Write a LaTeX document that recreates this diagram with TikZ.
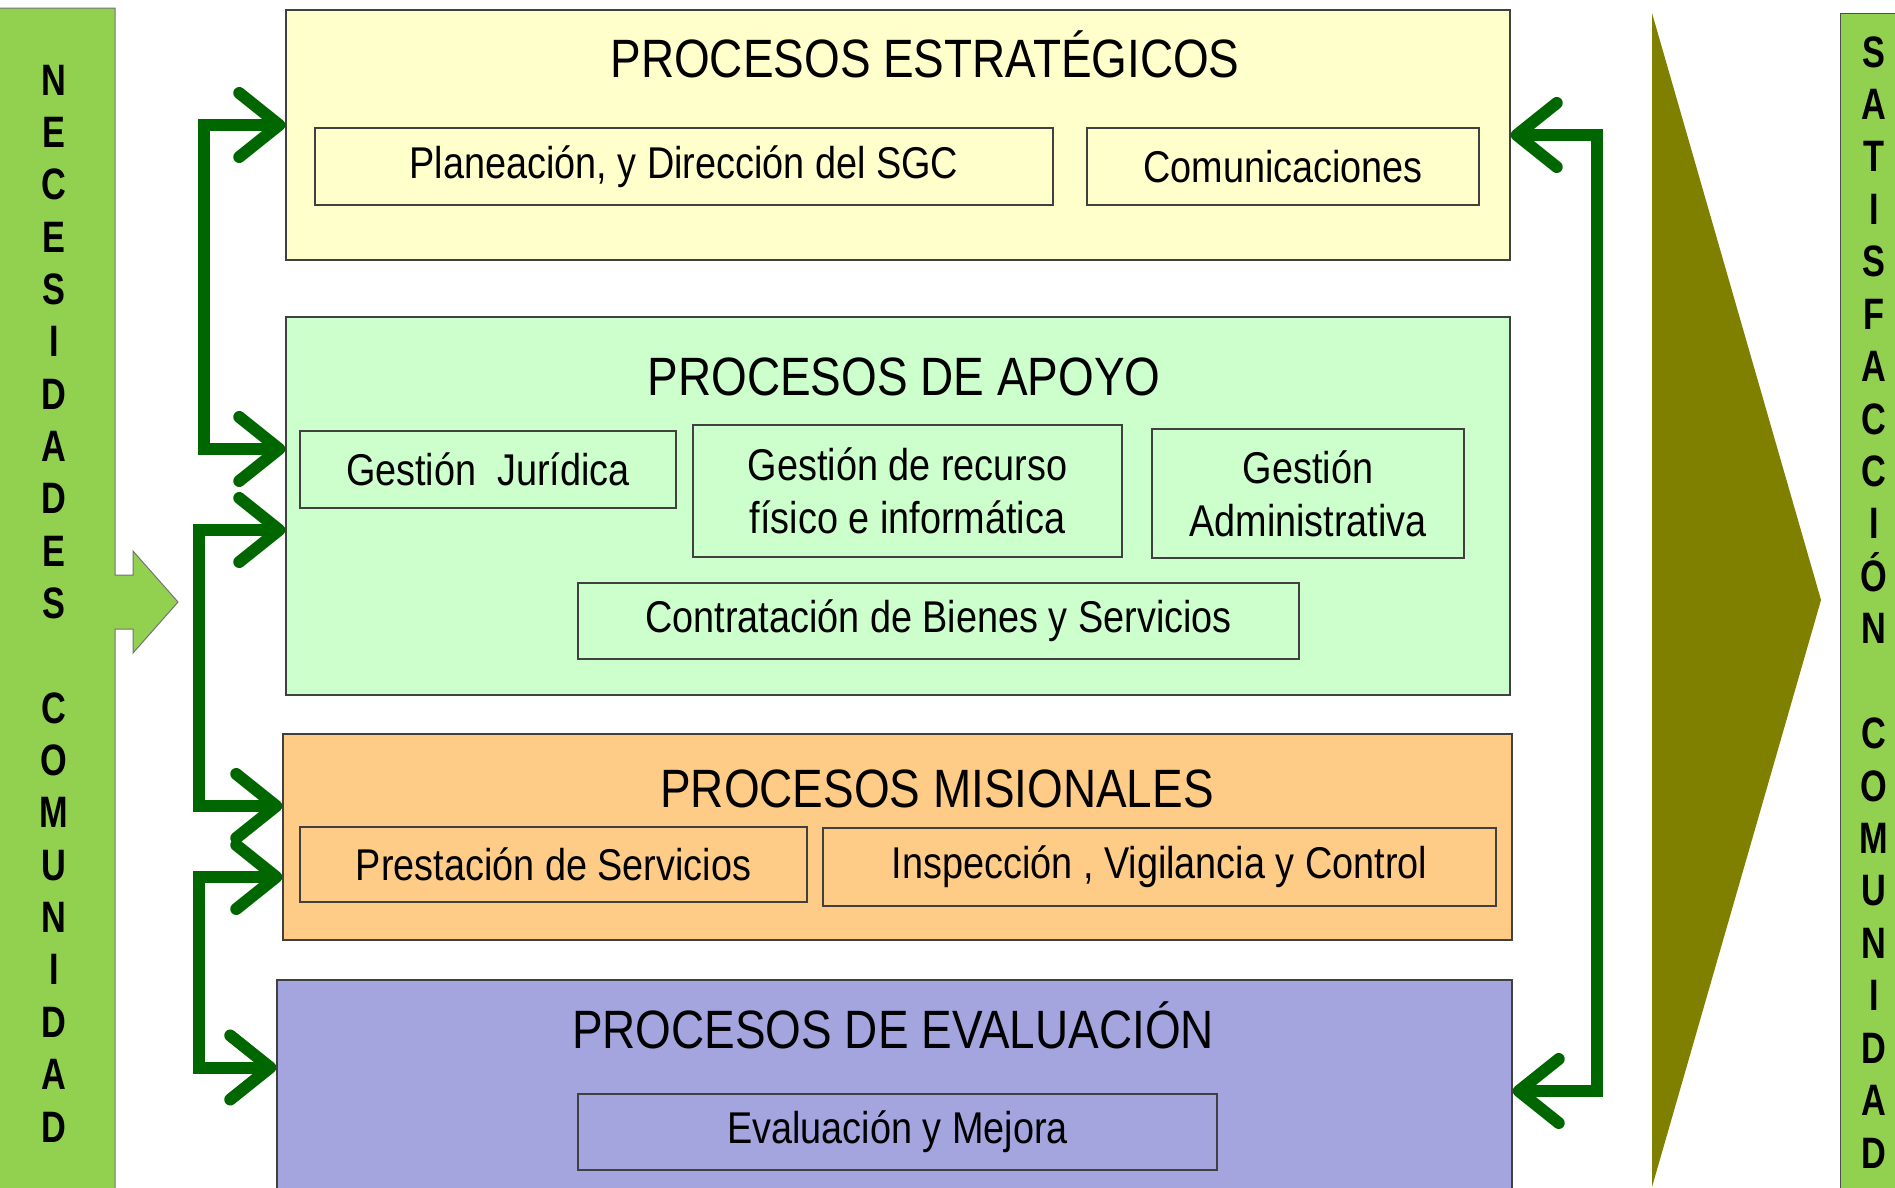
\documentclass[tikz,border=0pt]{standalone}
\usepackage{fontspec}
\setmainfont{Liberation Sans}[FakeStretch=0.85]
\newfontfamily\barfont{Liberation Sans}[FakeStretch=0.78]
\usetikzlibrary{arrows.meta}
\definecolor{barverde}{HTML}{92D050}
\definecolor{amarillo}{HTML}{FFFFCC}
\definecolor{verdeclaro}{HTML}{CCFFCC}
\definecolor{naranja}{HTML}{FFCC88}
\definecolor{lila}{HTML}{A4A4DE}
\definecolor{olivo}{HTML}{808000}
\definecolor{verdeosc}{HTML}{006600}
\begin{document}
\begin{tikzpicture}[x=1pt,y=-1pt,
    proc/.style={draw=black!75,line width=1.5pt,fill=#1,inner sep=0pt},
    caja/.style={draw=black!75,line width=1.5pt,inner sep=0pt,align=center,
                 font=\fontsize{44.5}{53}\selectfont},
    titulo/.style={font=\fontsize{54}{60}\selectfont,text height=39pt,text depth=0pt,inner sep=0pt},
    letra/.style={font=\barfont\bfseries\fontsize{44}{44}\selectfont,text height=32pt,text depth=0pt,inner sep=0pt},
    flujo/.style={draw=verdeosc,line width=12pt,
                  {Straight Barb[length=40pt,width=64pt,round]}-{Straight Barb[length=40pt,width=64pt,round]}}]
    \useasboundingbox (0,0) rectangle (1895,1187);
    \clip (0,0) rectangle (1895,1187);

    % entradas y salidas
    \draw[fill=barverde,draw=black!55,line width=1pt] (-2,8) -- (115,8) -- (115,575) -- (133,575)
        -- (133,551) -- (178,602) -- (133,653) -- (133,629) -- (115,629) -- (115,1195) -- (-2,1195) -- cycle;
    \foreach \ch [count=\i from 0] in {N,E,C,E,S,I,D,A,D,E,S}
        \node[letra] (nl\i) at (54,{79+52.35*\i}) {\ch};
    \foreach \ch [count=\i from 12] in {C,O,M,U,N,I,D,A,D}
        \node[letra] (nl\i) at (54,{79+52.35*\i}) {\ch};

    \fill[olivo] (1652,13) -- (1821,600) -- (1652,1187) -- cycle;
    \draw[fill=barverde,draw=black!70,line width=1pt] (1840,13) rectangle (1900,1195);
    \foreach \ch [count=\i from 0] in {S,A,T,I,S,F,A,C,C,I,Ó,N}
        \node[letra] (sr\i) at (1874,{51+52.43*\i}) {\ch};
    \foreach \ch [count=\i from 13] in {C,O,M,U,N,I,D,A,D}
        \node[letra] (sr\i) at (1874,{51+52.43*\i}) {\ch};

    % procesos
    \node[proc=amarillo,minimum width=1224pt,minimum height=250pt] (estr) at (898,135) {};
    \node[proc=verdeclaro,minimum width=1224pt,minimum height=378pt] (apoyo) at (898,506) {};
    \node[proc=naranja,minimum width=1229pt,minimum height=206pt] (mision) at (897.5,837) {};
    \node[proc=lila,minimum width=1235pt,minimum height=215pt] (evalua) at (894.5,1087.5) {};

    \node[titulo] (t-estr) at (925,58) {PROCESOS ESTRATÉGICOS};
    \node[titulo] (t-apoyo) at (904,376) {PROCESOS DE APOYO};
    \node[titulo] (t-mision) at (937,788) {PROCESOS MISIONALES};
    \node[titulo] (t-evalua) at (893,1029) {PROCESOS DE EVALUACIÓN};

    \node[caja,minimum width=738pt,minimum height=77pt] (plan) at (684,166.5) {Planeación, y Dirección del SGC};
    \node[caja,minimum width=392pt,minimum height=77pt] (comu) at (1283,166.5) {Comunicaciones};
    \node[caja,minimum width=376pt,minimum height=77pt] (jur) at (488,469.5) {Gestión~~Jurídica};
    \node[caja,minimum width=429pt,minimum height=132pt] (recu) at (907.5,491) {Gestión de recurso\\físico e informática};
    \node[caja,minimum width=312pt,minimum height=129pt] (admin) at (1308,493.5) {Gestión\\Administrativa};
    \node[caja,minimum width=721pt,minimum height=76pt] (contr) at (938.5,621) {Contratación de Bienes y Servicios};
    \node[caja,minimum width=507pt,minimum height=75pt] (prest) at (553.5,864.5) {Prestación de Servicios};
    \node[caja,minimum width=673pt,minimum height=78pt] (insp) at (1159.5,867) {Inspección , Vigilancia y Control};
    \node[caja,minimum width=639pt,minimum height=76pt] (mejora) at (897.5,1132) {Evaluación y Mejora};

    % flechas
    \draw[flujo] ([yshift=10pt]estr.west) -- ++(-81,0) |- ([yshift=57pt]apoyo.west);
    \draw[flujo] ([yshift=-24pt]apoyo.west) -- ++(-86,0) |- ([yshift=31pt]mision.west);
    \draw[flujo] ([yshift=-40pt]mision.west) -- ++(-83,0) |- ([yshift=20pt]evalua.west);
    \draw[flujo] (estr.east) -- ++(86,0) |- ([yshift=-3.5pt]evalua.east);
\end{tikzpicture}
\end{document}
